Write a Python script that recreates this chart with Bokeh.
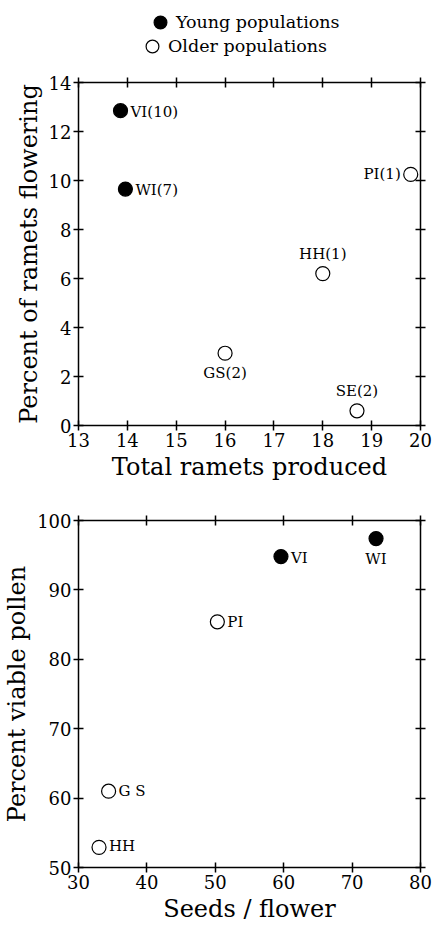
from bokeh.plotting import figure
from bokeh.models import (Range1d, LinearAxis, FixedTicker, ColumnDataSource,
                          Legend, LegendItem)
from bokeh.layouts import column
from bokeh.embed import file_html
from bokeh.resources import INLINE

# ---------------- data ----------------
top_names = ["VI(10)", "WI(7)", "GS(2)", "HH(1)", "SE(2)", "PI(1)"]
top_x = [13.86, 13.96, 16.0, 18.0, 18.7, 19.8]
top_y = [12.85, 9.65, 2.95, 6.2, 0.6, 10.25]
top_group = ["Young", "Young", "Older", "Older", "Older", "Older"]

bot_names = ["VI", "WI", "PI", "G S", "HH"]
bot_x = [59.6, 73.5, 50.3, 34.4, 33.0]
bot_y = [94.8, 97.4, 85.4, 61.0, 52.9]
bot_group = ["Young", "Young", "Older", "Older", "Older"]

top_xticks = [13, 14, 15, 16, 17, 18, 19, 20]
top_yticks = [0, 2, 4, 6, 8, 10, 12, 14]
bot_xticks = [30, 40, 50, 60, 70, 80]
bot_yticks = [50, 60, 70, 80, 90, 100]

legend_labels = ["Young populations", "Older populations"]

# ---------------- style ----------------
FONT = "DejaVu Serif"
# label placement per point: (align, baseline, dx, dy)
top_place = [("left", "middle", 10, 1), ("left", "middle", 10, 1),
             ("center", "top", 0, 11), ("center", "bottom", 0, -11),
             ("center", "bottom", 0, -11), ("right", "middle", -10, 0)]
bot_place = [("left", "middle", 10, 1), ("center", "top", 0, 11),
             ("left", "middle", 10, 0), ("left", "middle", 10, 0),
             ("left", "middle", 10, -1)]

YOUNG = dict(marker="circle", fill_color="black", line_color="black", line_width=1.2)
OLDER = dict(marker="circle", fill_color="white", line_color="black", line_width=1.2)


def style_axis(ax, ticks, show_labels=True):
    ax.ticker = FixedTicker(ticks=ticks)
    ax.minor_tick_line_color = None
    ax.major_tick_in = 5
    ax.major_tick_out = 5
    ax.major_tick_line_width = 1.5
    ax.axis_line_width = 1.5
    ax.axis_line_color = "black"
    ax.major_tick_line_color = "black"
    ax.major_label_text_font = FONT
    ax.axis_label_text_font = FONT
    ax.axis_label_text_font_size = "24px"
    ax.axis_label_text_font_style = "normal"
    ax.axis_label_text_color = "black"
    ax.axis_label_standoff = 3
    if show_labels:
        ax.major_label_text_font_size = "18px"
        ax.major_label_text_color = "black"
        ax.major_label_standoff = 2
    else:
        ax.major_label_text_font_size = "0px"
        ax.major_label_text_color = None
        ax.major_label_standoff = 0


def split_sources(xs, ys, groups):
    yi = [i for i, g in enumerate(groups) if g == "Young"]
    oi = [i for i, g in enumerate(groups) if g == "Older"]
    src_y = ColumnDataSource(dict(x=[xs[i] for i in yi], y=[ys[i] for i in yi]))
    src_o = ColumnDataSource(dict(x=[xs[i] for i in oi], y=[ys[i] for i in oi]))
    return src_y, src_o


def make_fig(xr, yr, xticks, yticks, xlabel, ylabel, names, xs, ys, groups,
             place, height, top_border, bottom_border):
    p = figure(width=433, height=height, x_range=Range1d(*xr), y_range=Range1d(*yr),
               output_backend="svg", toolbar_location=None,
               min_border_left=77, min_border_right=13,
               min_border_top=top_border, min_border_bottom=bottom_border,
               x_axis_label=xlabel, y_axis_label=ylabel)
    p.grid.visible = False
    p.outline_line_color = None
    p.background_fill_color = "white"
    p.border_fill_color = "white"
    style_axis(p.xaxis[0], xticks)
    style_axis(p.yaxis[0], yticks)
    ax_top = LinearAxis()
    style_axis(ax_top, xticks, show_labels=False)
    p.add_layout(ax_top, "above")
    ax_right = LinearAxis()
    style_axis(ax_right, yticks, show_labels=False)
    p.add_layout(ax_right, "right")

    src_y, src_o = split_sources(xs, ys, groups)
    p.scatter("x", "y", source=src_y, size=14, **YOUNG)
    p.scatter("x", "y", source=src_o, size=14, **OLDER)

    lab = ColumnDataSource(dict(
        x=xs, y=ys, text=names,
        align=[pl[0] for pl in place], base=[pl[1] for pl in place],
        dx=[pl[2] for pl in place], dy=[pl[3] for pl in place]))
    p.text("x", "y", text="text", source=lab, x_offset="dx", y_offset="dy",
           text_align="align", text_baseline="base", text_font_size="15px",
           text_font={"value": FONT}, text_color="black")
    return p, src_y, src_o


p1, sy, so = make_fig((13, 20), (0, 14), top_xticks, top_yticks,
                      "Total ramets produced", "Percent of ramets flowering",
                      top_names, top_x, top_y, top_group, top_place,
                      432, 14, 75)

p2, _, _ = make_fig((30, 80), (50, 100), bot_xticks, bot_yticks,
                    "Seeds / flower", "Percent viable pollen",
                    bot_names, bot_x, bot_y, bot_group, bot_place,
                    427, 20, 60)

# ---------------- legend strip ----------------
pl = figure(width=433, height=68, x_range=Range1d(0, 1), y_range=Range1d(0, 1),
            output_backend="svg", toolbar_location=None, min_border=0)
pl.axis.visible = False
pl.grid.visible = False
pl.outline_line_color = None
r_y = pl.scatter("x", "y", source=sy, size=14, visible=False, **YOUNG)
r_o = pl.scatter("x", "y", source=so, size=14, visible=False, **OLDER)
for lbl, rend, loc in [(legend_labels[0], r_y, (66, 30)),
                       (legend_labels[1], r_o, (58, 6))]:
    lg = Legend(items=[LegendItem(label=lbl, renderers=[rend], index=0)],
                location=loc)
    lg.label_text_font = FONT
    lg.label_text_font_size = "17.5px"
    lg.label_text_color = "black"
    lg.border_line_color = None
    lg.background_fill_alpha = 0
    lg.inactive_fill_alpha = 0
    lg.glyph_width = 32
    lg.glyph_height = 32
    lg.label_standoff = 0
    lg.padding = 0
    lg.margin = 0
    pl.add_layout(lg, "center")

layout = column(pl, p1, p2, spacing=0)
open("out.html", "w").write(file_html(layout, INLINE))
